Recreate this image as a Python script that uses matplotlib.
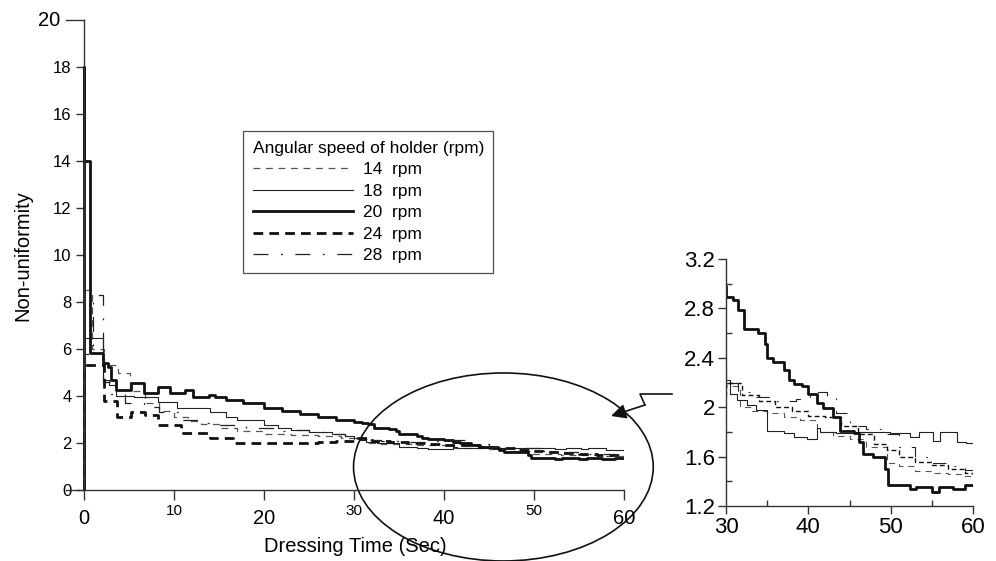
import matplotlib
matplotlib.use("Agg")
import matplotlib.pyplot as plt
from matplotlib.patches import Ellipse, FancyArrowPatch
from matplotlib.lines import Line2D
from matplotlib.ticker import FormatStrFormatter

plt.rcParams["font.family"] = ["Liberation Sans", "DejaVu Sans"]

# ---------------- data (step series: level starts at each time) ----------------
t14 = [0, 0, 0.85, 2.2, 3.8, 5.1, 6.8, 8.3, 10, 11.5, 13, 15, 17, 20, 23, 26, 28.5, 30,
       31.7, 33, 35, 37, 39, 41, 43, 45, 47, 49.5, 51, 53, 55, 57, 58.5, 60]
v14 = [0, 8.5, 6.0, 5.3, 5.0, 4.2, 3.7, 3.35, 3.12, 2.95, 2.8, 2.65, 2.5, 2.4, 2.35, 2.3, 2.2, 2.17,
       2.0, 1.97, 1.95, 1.92, 1.90, 1.80, 1.77, 1.74, 1.68, 1.55, 1.52, 1.48, 1.47, 1.46, 1.44, 1.42]

t18 = [0, 0, 2.1, 2.8, 3.5, 5.5, 8.2, 10.3, 14, 15.8, 17, 20, 21.5, 23, 25, 27.5, 29, 30, 30.5,
       31.3, 32.5, 33.7, 35, 37, 38.2, 39.8, 41, 41.4, 43.4, 45.8, 49.9, 52.3, 53.5, 55.2, 56,
       58, 59.2, 60]
v18 = [0, 6.45, 4.7, 4.45, 4.0, 3.95, 3.75, 3.5, 3.3, 3.1, 2.98, 2.77, 2.62, 2.55, 2.48, 2.4, 2.3, 2.22, 2.11,
       2.06, 2.02, 1.98, 1.81, 1.79, 1.76, 1.74, 1.83, 1.80, 1.79, 1.80, 1.79, 1.76, 1.80, 1.73, 1.80,
       1.72, 1.71, 1.71]

t20 = [0, 0, 0.05, 0.63, 2.1, 2.7, 3.0, 3.6, 5.2, 6.7, 8.2, 9.5, 11.2, 12.1, 13.9, 14.6, 15.8, 17.7,
       20, 22, 24, 26, 28, 30, 30.9, 31.5, 32.2, 33.9, 34.7, 35, 35.7, 37, 37.6, 38.2, 39.2, 40,
       41, 41.8, 43, 43.9, 45.6, 46.1, 46.7, 47.9, 49.3, 49.7, 52.3, 53.1, 55, 55.9, 57.6, 59, 60]
v20 = [0, 18, 14, 5.84, 5.39, 5.25, 4.68, 4.26, 4.54, 4.14, 4.4, 4.11, 4.26, 3.97, 4.05, 3.95, 3.82, 3.7,
       3.48, 3.38, 3.25, 3.1, 2.98, 2.89, 2.87, 2.79, 2.63, 2.6, 2.51, 2.40, 2.37, 2.30, 2.22, 2.19, 2.17, 2.11,
       2.03, 1.99, 1.92, 1.81, 1.79, 1.72, 1.62, 1.60, 1.50, 1.37, 1.34, 1.35, 1.31, 1.35, 1.34, 1.37, 1.37]

t24 = [0, 0, 2.2, 3.7, 5.2, 6.8, 8.2, 10.8, 14, 16.6, 19, 23.3, 26, 28, 30, 32, 34, 36, 38, 40,
       42, 44, 46, 48, 49.5, 51, 53, 55, 57, 59, 60]
v24 = [0, 5.3, 3.8, 3.1, 3.3, 3.2, 2.75, 2.42, 2.22, 2.02, 2.0, 2.02, 2.05, 2.1, 2.2, 2.1, 2.05, 2.0, 1.97, 1.93,
       1.92, 1.85, 1.78, 1.70, 1.65, 1.6, 1.56, 1.53, 1.50, 1.47, 1.45]

t28 = [0, 0, 1.0, 2.1, 3.0, 4.5, 6.7, 8.3, 10.5, 12.5, 15, 18, 21, 23.3, 25, 27.3, 29, 30, 31.5, 33,
       36, 38.5, 40.2, 42.3, 43.3, 45, 47, 49, 51, 53, 55, 57, 59, 60]
v28 = [0, 5.8, 8.3, 4.6, 4.1, 3.7, 3.55, 3.3, 3.0, 2.85, 2.75, 2.62, 2.5, 2.55, 2.45, 2.4, 2.3, 2.2, 2.12, 2.08,
       2.05, 2.07, 2.12, 2.08, 1.95, 1.85, 1.82, 1.78, 1.68, 1.6, 1.55, 1.52, 1.49, 1.48]

labels = ["14  rpm", "18  rpm", "20  rpm", "24  rpm", "28  rpm"]
legend_title = "Angular speed of holder (rpm)"
main_yticks = [0, 2, 4, 6, 8, 10, 12, 14, 16, 18]
main_ytop = 20
main_xticks_major = [0, 20, 40, 60]
main_xticks_minor = [10, 30, 50]
inset_yticks = [1.2, 1.6, 2.0, 2.4, 2.8, 3.2]
inset_yticks_minor = [1.4, 1.8, 2.2, 2.6, 3.0]
inset_xticks = [30, 40, 50, 60]
inset_xticks_minor = [35, 45, 55]

series = [(t14, v14), (t18, v18), (t20, v20), (t24, v24), (t28, v28)]
styles = [
    dict(color="#555555", lw=0.9, dashes=(5.5, 4.5)),
    dict(color="#222222", lw=0.8, linestyle="-"),
    dict(color="#111111", lw=2.0, linestyle="-"),
    dict(color="#111111", lw=2.0, dashes=(3.5, 2.2)),
    dict(color="#222222", lw=0.9, dashes=(12, 10, 1.5, 10)),
]

W, H = 996, 561
fig = plt.figure(figsize=(W / 100, H / 100), dpi=100)
fig.patch.set_facecolor("white")


def fx(px):
    return px / W


def fy(py):
    return 1 - py / H


axcol = "#333333"

# ---------------- main axes ----------------
ax = fig.add_axes([fx(66), fy(490), fx(624) - fx(66), fy(20) - fy(490)])
ax.set_xlim(-2, 60)
ax.set_ylim(0, 20)
for s in ["top", "right"]:
    ax.spines[s].set_visible(False)
ax.spines["left"].set_position(("data", 0))
ax.spines["left"].set_bounds(0, 20)
for s in ["left", "bottom"]:
    ax.spines[s].set_color(axcol)
    ax.spines[s].set_linewidth(1.0)

handles = []
for (t, v), st, lab in zip(series, styles, labels):
    h, = ax.plot(t, v, drawstyle="steps-post", label=lab, **st)
    handles.append(h)

ax.set_yticks(main_yticks)
ax.tick_params(axis="y", direction="out", length=6, width=1, color=axcol, labelsize=12, pad=3)
ax.set_xticks(main_xticks_major)
ax.set_xticks(main_xticks_minor, minor=True)
ax.set_xticklabels([str(v) for v in main_xticks_major])
ax.set_xticklabels([str(v) for v in main_xticks_minor], minor=True)
ax.tick_params(axis="x", which="major", direction="out", length=7, width=1, color=axcol,
               labelsize=14.5, pad=7)
ax.tick_params(axis="x", which="minor", direction="out", length=7, width=1, color=axcol,
               labelsize=11, pad=3)
# long top tick at 20 with its label
ax.plot([-2, 0], [main_ytop, main_ytop], color=axcol, lw=1, clip_on=False)
ax.annotate(str(main_ytop), xy=(-2, main_ytop), xytext=(-4, 0), textcoords="offset points",
            ha="right", va="center", fontsize=14.5, annotation_clip=False)

fig.text(fx(23), fy(256), "Non-uniformity", fontsize=14.5, rotation=90,
         ha="center", va="center")
fig.text(fx(355), fy(546), "Dressing Time (Sec)", fontsize=14.5, ha="center", va="center")

leg = ax.legend(handles=handles, title=legend_title, loc="upper left",
                bbox_to_anchor=(fx(243), fy(131)), bbox_transform=fig.transFigure,
                frameon=True, fancybox=False, edgecolor="#222222", fontsize=12.5,
                title_fontsize=12.5, handlelength=5.8, handletextpad=0.55,
                labelspacing=0.37, borderpad=0.55, borderaxespad=0)
leg._legend_box.align = "left"
leg.get_frame().set_linewidth(0.9)

# ellipse highlighting the zoomed region
ell = Ellipse((46.6, 0.98), 33.3, 8.0, fill=False, edgecolor="#111111", lw=1.2, clip_on=False)
ax.add_patch(ell)

# zig-zag connector with arrow
fig.add_artist(Line2D([fx(672), fx(640), fx(645)], [fy(394), fy(394), fy(405)],
                      color="#111111", lw=1.2))
fig.add_artist(FancyArrowPatch(
    (fx(645), fy(405)), (fx(611), fy(416)), transform=fig.transFigure,
    arrowstyle="-|>,head_length=9,head_width=4.5", color="#111111", lw=1.2,
    shrinkA=0, shrinkB=0))

# ---------------- inset axes ----------------
axin = fig.add_axes([fx(726), fy(506), fx(973) - fx(726), fy(259) - fy(506)])
axin.set_xlim(30, 60)
axin.set_ylim(1.2, 3.2)
for s in ["top", "right"]:
    axin.spines[s].set_visible(False)
for s in ["left", "bottom"]:
    axin.spines[s].set_color(axcol)
    axin.spines[s].set_linewidth(1.0)
for (t, v), st in zip(series, styles):
    st2 = dict(st)
    if st2["lw"] < 1.5:
        st2["lw"] = 0.8
    if "dashes" in st2 and st2["lw"] >= 1.5:
        st2["lw"] = 1.0
    axin.plot(t, v, drawstyle="steps-post", **st2)
axin.set_yticks(inset_yticks)
axin.set_yticks(inset_yticks_minor, minor=True)
axin.set_xticks(inset_xticks)
axin.set_xticks(inset_xticks_minor, minor=True)
axin.yaxis.set_major_formatter(FormatStrFormatter("%g"))
axin.tick_params(which="major", direction="out", length=6, width=1, color=axcol,
                 labelsize=16, pad=2)
axin.tick_params(which="minor", direction="in", length=4, width=1, color=axcol)

fig.savefig("out.png", dpi=100, facecolor="white")
